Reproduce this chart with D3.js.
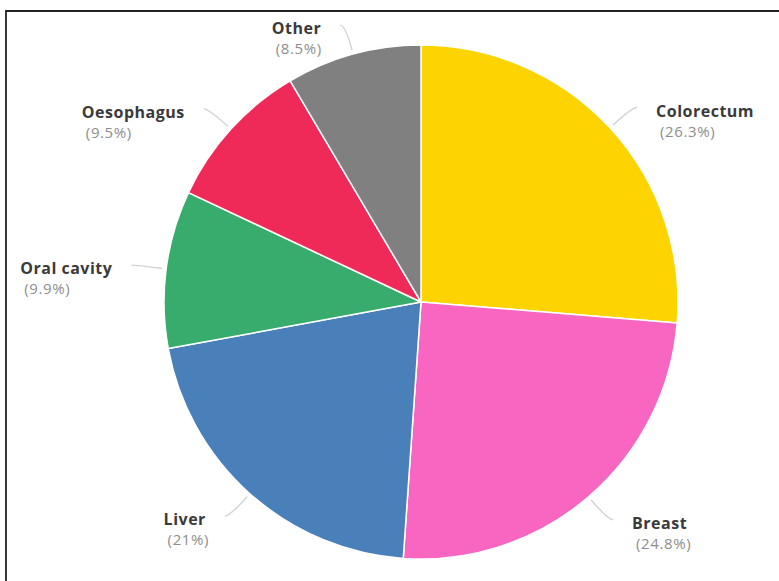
<!DOCTYPE html>
<html>
<head>
<meta charset="utf-8">
<script src="https://cdn.jsdelivr.net/npm/d3@7"></script>
<style>
  html, body { margin: 0; padding: 0; background: #fff; }
  svg { display: block; }
</style>
</head>
<body>
<svg id="chart" width="779" height="581"></svg>
<script>
// Share of cases by cancer site
const sites = ["Colorectum", "Breast", "Liver", "Oral cavity", "Oesophagus", "Other"];
const shares = [26.3, 24.8, 21, 9.9, 9.5, 8.5];
const shareLabels = ["(26.3%)", "(24.8%)", "(21%)", "(9.9%)", "(9.5%)", "(8.5%)"];
const siteColors = ["#FDD400", "#F866C2", "#4A80BA", "#38AC6C", "#F02A58", "#808080"];

const W = 779, H = 581;
const cx = 421, cy = 302, R = 257;

const svg = d3.select("#chart");

// frame line along top and left edges
svg.append("path")
  .attr("d", `M6,${H + 2} L6,11 L${W + 2},11`)
  .attr("fill", "none")
  .attr("stroke", "#222")
  .attr("stroke-width", 1.8);

const rows = sites.map((s, i) => ({ site: s, value: shares[i], label: shareLabels[i], color: siteColors[i] }));

const pie = d3.pie().sort(null).value(d => d.value);
const arcs = pie(rows);
const arc = d3.arc().innerRadius(0).outerRadius(R);

const g = svg.append("g").attr("transform", `translate(${cx},${cy})`);

g.selectAll("path.slice")
  .data(arcs)
  .join("path")
  .attr("class", "slice")
  .attr("d", arc)
  .attr("fill", d => d.data.color)
  .attr("stroke", "#fff")
  .attr("stroke-width", 1.5)
  .attr("stroke-linejoin", "round");

// leader lines and labels
const polar = (a, r) => [Math.sin(a) * r, -Math.cos(a) * r];

arcs.forEach(d => {
  const mid = (d.startAngle + d.endAngle) / 2;
  const right = Math.sin(mid) > 0;
  const p0 = polar(mid, R + 4);
  const p1 = polar(mid, R + 30);
  const p2 = [p1[0] + (right ? 5 : -5), p1[1]];

  g.append("path")
    .attr("d", `M${p0[0]},${p0[1]} Q${p1[0]},${p1[1]} ${p2[0]},${p2[1]}`)
    .attr("fill", "none")
    .attr("stroke", "#cfd3d6")
    .attr("stroke-width", 1.4);

  const lbl = g.append("g");
  const name = lbl.append("text")
    .attr("x", 0).attr("y", 0)
    .attr("dominant-baseline", "central")
    .style("font-family", "'Open Sans', sans-serif")
    .style("font-weight", "700")
    .style("font-size", "16px")
    .style("letter-spacing", "0.5px")
    .attr("fill", "#3a3a3a")
    .text(d.data.site);
  lbl.append("text")
    .attr("x", 4).attr("y", 20)
    .attr("dominant-baseline", "central")
    .style("font-family", "'Open Sans', sans-serif")
    .style("font-weight", "400")
    .style("font-size", "15px")
    .style("letter-spacing", "0.6px")
    .attr("fill", "#8e8e8e")
    .text(d.data.label);

  const w = name.node().getComputedTextLength();
  const gap = 19;
  const lx = right ? p2[0] + gap : p2[0] - gap - w;
  lbl.attr("transform", `translate(${lx},${p2[1] + 3})`);
});
</script>
</body>
</html>
